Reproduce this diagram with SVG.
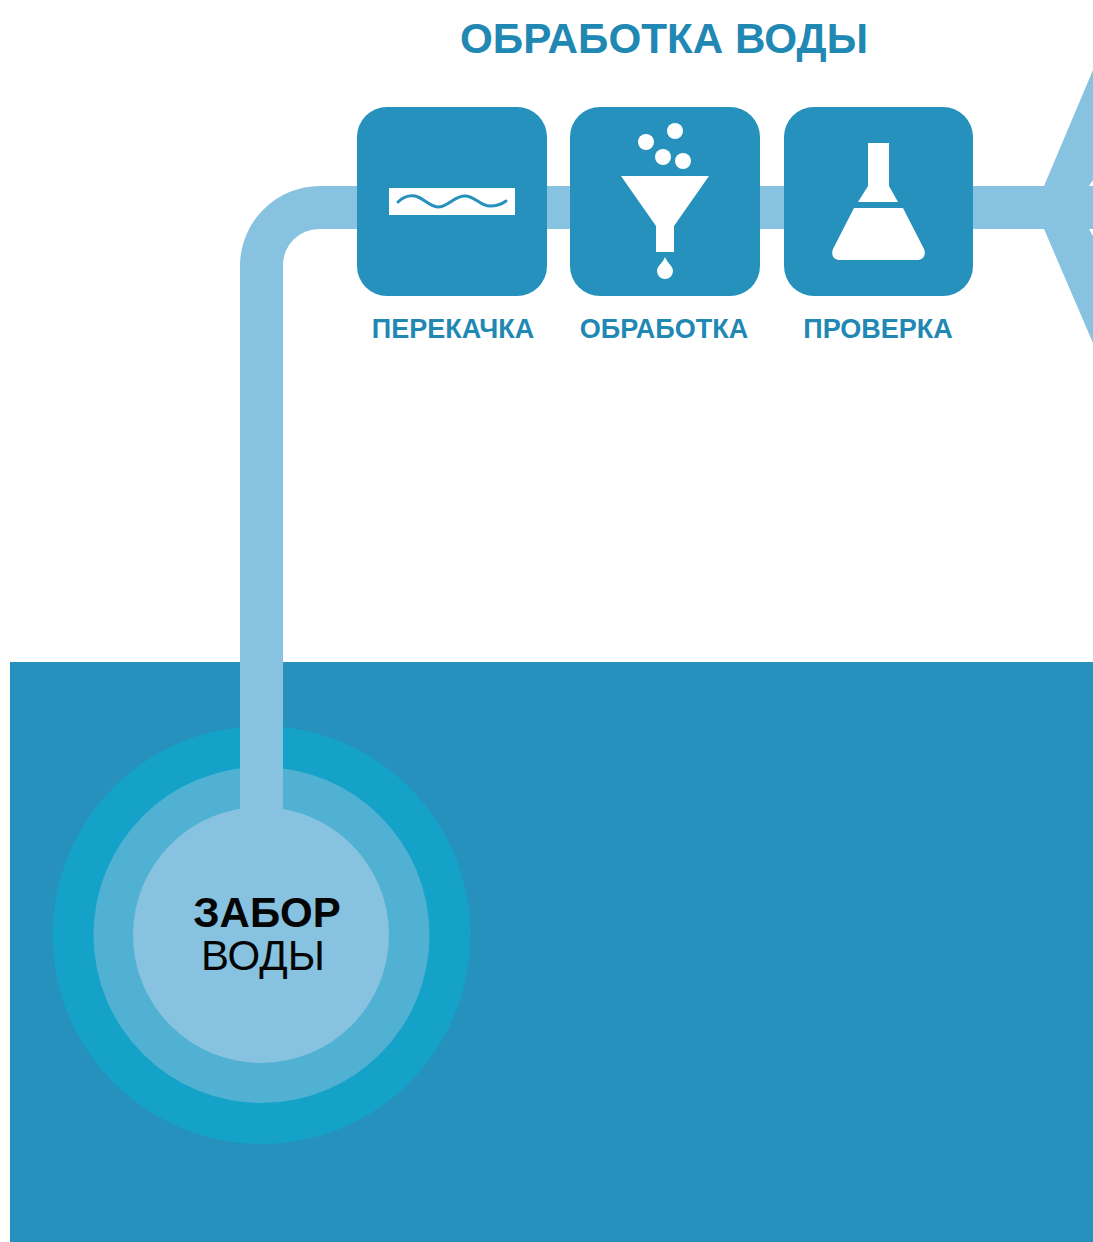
<svg xmlns="http://www.w3.org/2000/svg" width="1093" height="1242" viewBox="0 0 1093 1242">
<style>
.pipe{fill:#87c2e0}
.tile{fill:#2591bc}
.ico{fill:#fff}
.lbl{font-family:"Liberation Sans",Arial,sans-serif;font-weight:700;fill:#2188b4;text-anchor:middle}
.blk{font-family:"Liberation Sans",Arial,sans-serif;fill:#050505;text-anchor:middle}
</style>
<rect width="1093" height="1242" fill="#fff"/>
<rect id="water" x="10" y="662" width="1083" height="580" fill="#2591bc"/>
<text id="title" class="lbl" x="664" y="53" font-size="42.200">ОБРАБОТКА ВОДЫ</text>
<g id="intake-rings">
<circle cx="261.500" cy="935" r="209" fill="#15a2c8"/>
<circle cx="261.500" cy="935" r="168" fill="#50b1d3"/>
</g>
<g id="connectors">
<path class="pipe" d="M283 830V265A36 36 0 0 1 319 229H1044L1093 343V70L1044 186H320A80 80 0 0 0 240 266V830Z"/>
<path fill="#fff" d="M1093 180L1089 186H1093ZM1093 229H1089L1093 236Z"/>
</g>
<g id="intake">
<circle class="pipe" cx="261" cy="935" r="128"/>
<text class="blk" x="267" y="927" font-size="42" font-weight="700">ЗАБОР</text>
<text class="blk" x="263" y="970" font-size="42">ВОДЫ</text>
</g>
<g id="pump">
<rect class="tile" x="357" y="107" width="190" height="189" rx="30"/>
<rect class="ico" x="389" y="188" width="126" height="27"/>
<path d="M398 202C403 197 409 195 415 196C424 198 428 206 438 207C448 207 454 196 465 196C475 196 480 206 490 206C497 206 502 204 506 201" fill="none" stroke="#2591bc" stroke-width="3" stroke-linecap="round"/>
<text class="lbl" x="453" y="338" font-size="27">ПЕРЕКАЧКА</text>
</g>
<g id="treat">
<rect class="tile" x="570" y="107" width="190" height="189" rx="30"/>
<circle class="ico" cx="646" cy="142" r="8"/>
<circle class="ico" cx="675" cy="131" r="8"/>
<circle class="ico" cx="663" cy="157" r="8"/>
<circle class="ico" cx="683" cy="161" r="8"/>
<path class="ico" d="M621 176H709L674 226V252H656V226Z"/>
<path class="ico" d="M665 257C668 264 673 266 673 271A8 8 0 0 1 657 271C657 266 662 264 665 257Z"/>
<text class="lbl" x="664" y="338" font-size="27">ОБРАБОТКА</text>
</g>
<g id="test">
<rect class="tile" x="784" y="107" width="189" height="189" rx="30"/>
<path class="ico" d="M868 143H889V186L898 202H858L868 186Z"/>
<path class="ico" d="M854 208H903L923 247C927 254 924 260 917 260H840C833 260 830 254 834 247Z"/>
<text class="lbl" x="878" y="338" font-size="27">ПРОВЕРКА</text>
</g>
</svg>
